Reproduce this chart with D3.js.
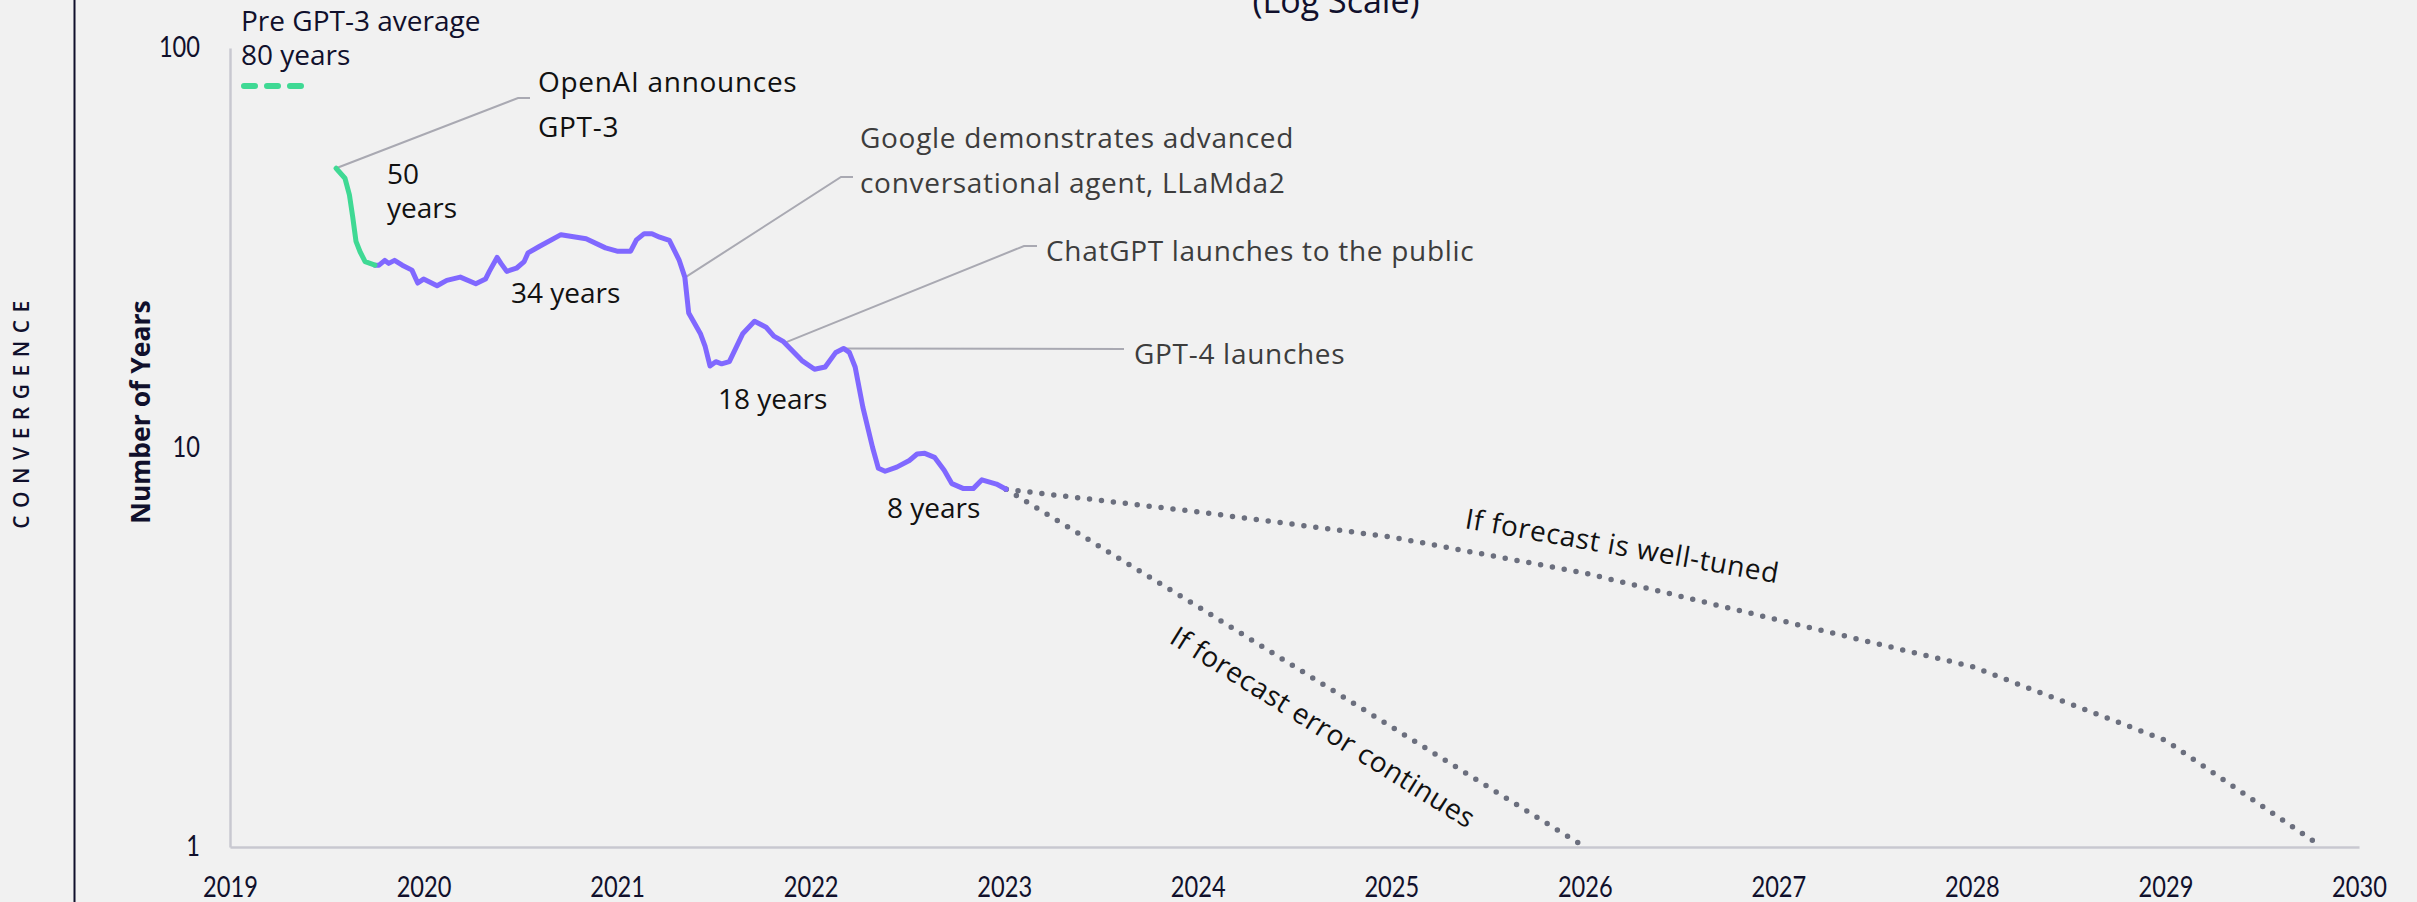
<!DOCTYPE html>
<html lang="en">
<head>
<meta charset="utf-8">
<title>Years to convergence (log scale)</title>
<script src="https://d3js.org/d3.v7.js"></script>
<style>
  body { margin: 0; background: #f1f1f1; }
  svg { display: block; }
</style>
</head>
<body>
<script>

// ---- data (decimal years, number of years) ----
var greenDates  = [2019.548, 2019.594, 2019.617, 2019.634, 2019.651, 2019.672, 2019.698, 2019.749];
var greenValues = [50.0, 47.2, 42.9, 37.8, 32.8, 30.9, 29.2, 28.6];

var purpleDates = [2019.749, 2019.77, 2019.80, 2019.82, 2019.85, 2019.89, 2019.94, 2019.97, 2020.00,
  2020.07, 2020.12, 2020.19, 2020.27, 2020.32, 2020.34, 2020.38, 2020.40, 2020.43, 2020.48, 2020.52,
  2020.54, 2020.60, 2020.71, 2020.84, 2020.94, 2021.00, 2021.07, 2021.10, 2021.14, 2021.18, 2021.22,
  2021.27, 2021.32, 2021.35, 2021.37, 2021.43, 2021.455, 2021.48, 2021.51, 2021.54, 2021.58, 2021.65,
  2021.71, 2021.77, 2021.81, 2021.86, 2021.955, 2022.02, 2022.075, 2022.13, 2022.17, 2022.20, 2022.23,
  2022.27, 2022.32, 2022.35, 2022.385, 2022.445, 2022.51, 2022.55, 2022.59, 2022.64, 2022.69, 2022.73,
  2022.79, 2022.84, 2022.885, 2022.96, 2023.01];
var purpleValues = [28.6, 28.6, 29.4, 28.9, 29.4, 28.6, 27.8, 25.8, 26.4,
  25.4, 26.2, 26.7, 25.7, 26.4, 27.6, 29.9, 28.9, 27.6, 28.1, 29.2,
  30.7, 31.9, 34.1, 33.3, 31.6, 31.0, 31.0, 33.1, 34.3, 34.3, 33.6,
  33.0, 29.5, 26.7, 21.7, 19.3, 17.9, 16.0, 16.4, 16.2, 16.4, 19.3,
  20.7, 20.0, 19.0, 18.4, 16.5, 15.7, 15.9, 17.3, 17.7, 17.3, 15.9,
  12.6, 10.0, 8.87, 8.72, 8.93, 9.28, 9.63, 9.67, 9.45, 8.77, 8.12,
  7.89, 7.89, 8.30, 8.10, 7.86];

var tunedDates  = [2023.01, 2024, 2025, 2026, 2027, 2028, 2029, 2029.81];
var tunedValues = [7.86, 6.9, 5.97, 4.85, 3.7, 2.83, 1.85, 1.0];

var errorDates  = [2023.01, 2024, 2025, 2026];
var errorValues = [7.86, 4, 2, 1];

var yearTicks = [2019, 2020, 2021, 2022, 2023, 2024, 2025, 2026, 2027, 2028, 2029, 2030];
var yTicks = [1, 10, 100];

// events: [date, value on curve, label lines]
var events = [
  { date: 2019.548, value: 50.0, lines: ["OpenAI announces", "GPT-3"] },
  { date: 2021.354, value: 26.7, lines: ["Google demonstrates advanced", "conversational agent, LLaMda2"] },
  { date: 2021.868, value: 18.3, lines: ["ChatGPT launches to the public"] },
  { date: 2022.168, value: 17.7, lines: ["GPT-4 launches"] }
];

// ---- layout ----
var w = 2417, h = 902;
var navy = "#10102c";
var annFont = "'Open Sans', 'Noto Sans', sans-serif";
var tickFont = "Lato, 'Open Sans', sans-serif";

var x = d3.scaleLinear().domain([2019, 2030]).range([230, 2359]);
var y = d3.scaleLog().domain([1, 100]).range([847, 48]);

var svg = d3.select("body").append("svg")
  .attr("width", w)
  .attr("height", h)
  .style("background", "#f1f1f1");

// left rule and side label
svg.append("line")
  .attr("x1", 74.5).attr("x2", 74.5).attr("y1", 0).attr("y2", h)
  .attr("stroke", navy).attr("stroke-width", 2);

svg.append("text")
  .attr("transform", "translate(29, 411) rotate(-90)")
  .attr("text-anchor", "middle")
  .style("font-family", annFont)
  .style("font-weight", 600)
  .style("font-size", "21px")
  .style("letter-spacing", "7.5px")
  .attr("fill", navy)
  .text("CONVERGENCE");

svg.append("text")
  .attr("transform", "translate(150, 412) rotate(-90)")
  .attr("text-anchor", "middle")
  .style("font-family", annFont)
  .style("font-weight", "bold")
  .style("font-size", "26.5px")
  .attr("fill", navy)
  .text("Number of Years");

// title (mostly cut off at the top)
svg.append("text")
  .attr("x", 1336).attr("y", 13)
  .attr("text-anchor", "middle")
  .style("font-family", annFont)
  .style("font-size", "34px")
  .attr("fill", navy)
  .text("(Log Scale)");

// axes
var xAxis = d3.axisBottom(x).tickValues(yearTicks).tickFormat(d3.format("d")).tickSize(0).tickSizeOuter(0);
var yAxis = d3.axisLeft(y).tickValues(yTicks).tickFormat(d3.format("d")).tickSize(0).tickSizeOuter(0);

var gx = svg.append("g").attr("transform", "translate(0," + y(1) + ")").call(xAxis);
var gy = svg.append("g").attr("transform", "translate(" + x(2019) + ",0)").call(yAxis);

[gx, gy].forEach(function(g) {
  g.select(".domain").attr("stroke", "#c8c8d0").attr("stroke-width", 2.5);
  g.selectAll("text")
    .style("font-family", tickFont)
    .style("font-size", "28px")
    .attr("fill", navy)
    .attr("lengthAdjust", "spacingAndGlyphs")
    .attr("textLength", function(d) { return String(d).length * 13.7; });
});
gx.selectAll("text").attr("y", 50).attr("dy", 0);
gy.selectAll("text").attr("x", -30);

// legend for pre GPT-3 average
svg.append("text")
  .attr("x", 241).attr("y", 31)
  .style("font-family", annFont).style("font-size", "28px").attr("fill", navy)
  .text("Pre GPT-3 average");
svg.append("text")
  .attr("x", 241).attr("y", 65)
  .style("font-family", annFont).style("font-size", "28px").attr("fill", navy)
  .text("80 years");
svg.append("line")
  .attr("x1", 244).attr("x2", 304).attr("y1", 86).attr("y2", 86)
  .attr("stroke", "#3fd994").attr("stroke-width", 6)
  .attr("stroke-linecap", "round").attr("stroke-dasharray", "11 12");

// annotation connectors
var connColor = "#a9a9b2";
var callouts = [
  { knee: [518, 98], end: [530, 98], tx: 538, ty: [92, 137], color: "#111" },
  { knee: [841, 177], end: [853, 177], tx: 860, ty: [148, 193], color: "#3d3d3d" },
  { knee: [1024, 246], end: [1037, 246], tx: 1046, ty: [261], color: "#3d3d3d" },
  { knee: [1124, 349], end: [1124, 349], tx: 1134, ty: [364], color: "#3d3d3d" }
];

events.forEach(function(ev, i) {
  var c = callouts[i];
  var px = x(ev.date), py = y(ev.value);
  var pts = (i === 3) ? [[px, py], c.end] : [[px, py], c.knee, c.end];
  svg.append("path")
    .attr("d", d3.line()(pts))
    .attr("fill", "none")
    .attr("stroke", connColor)
    .attr("stroke-width", 2);
  ev.lines.forEach(function(line, j) {
    svg.append("text")
      .attr("x", c.tx).attr("y", c.ty[j])
      .style("font-family", annFont).style("font-size", "28px")
      .style("letter-spacing", "0.7px")
      .attr("fill", c.color)
      .text(line);
  });
});

// series
function toPoints(dates, values) {
  return dates.map(function(d, i) { return [d, values[i]]; });
}
var line = d3.line()
  .x(function(d) { return x(d[0]); })
  .y(function(d) { return y(d[1]); });

svg.append("path")
  .datum(toPoints(tunedDates, tunedValues))
  .attr("d", line)
  .attr("fill", "none").attr("stroke", "#6b6f7e").attr("stroke-width", 5.5)
  .attr("stroke-linecap", "round").attr("stroke-dasharray", "0 12");

svg.append("path")
  .datum(toPoints(errorDates, errorValues))
  .attr("d", line)
  .attr("fill", "none").attr("stroke", "#6b6f7e").attr("stroke-width", 5.5)
  .attr("stroke-linecap", "round").attr("stroke-dasharray", "0 12");

svg.append("path")
  .datum(toPoints(purpleDates, purpleValues))
  .attr("d", line)
  .attr("fill", "none").attr("stroke", "#8068ff").attr("stroke-width", 5)
  .attr("stroke-linejoin", "round").attr("stroke-linecap", "round");

svg.append("path")
  .datum(toPoints(greenDates, greenValues))
  .attr("d", line)
  .attr("fill", "none").attr("stroke", "#3fd994").attr("stroke-width", 5)
  .attr("stroke-linejoin", "round").attr("stroke-linecap", "round");

// value labels on the curve
var valueLabels = [
  { x: 387, y: 184, text: "50" },
  { x: 387, y: 218, text: "years" },
  { x: 511, y: 303, text: "34 years" },
  { x: 718, y: 409, text: "18 years" },
  { x: 887, y: 518, text: "8 years" }
];
svg.selectAll(".vlabel")
  .data(valueLabels)
  .enter().append("text")
  .attr("class", "vlabel")
  .attr("x", function(d) { return d.x; })
  .attr("y", function(d) { return d.y; })
  .style("font-family", annFont).style("font-size", "28px")
  .attr("fill", "#111")
  .text(function(d) { return d.text; });

// forecast labels
svg.append("text")
  .attr("transform", "translate(1464, 528) rotate(10)")
  .style("font-family", annFont).style("font-size", "28px")
  .style("letter-spacing", "0.6px")
  .attr("fill", "#111")
  .text("If forecast is well-tuned");

svg.append("text")
  .attr("transform", "translate(1168, 642) rotate(32)")
  .style("font-family", annFont).style("font-size", "28px")
  .style("letter-spacing", "0.5px")
  .attr("fill", "#111")
  .text("If forecast error continues");

</script>
</body>
</html>
